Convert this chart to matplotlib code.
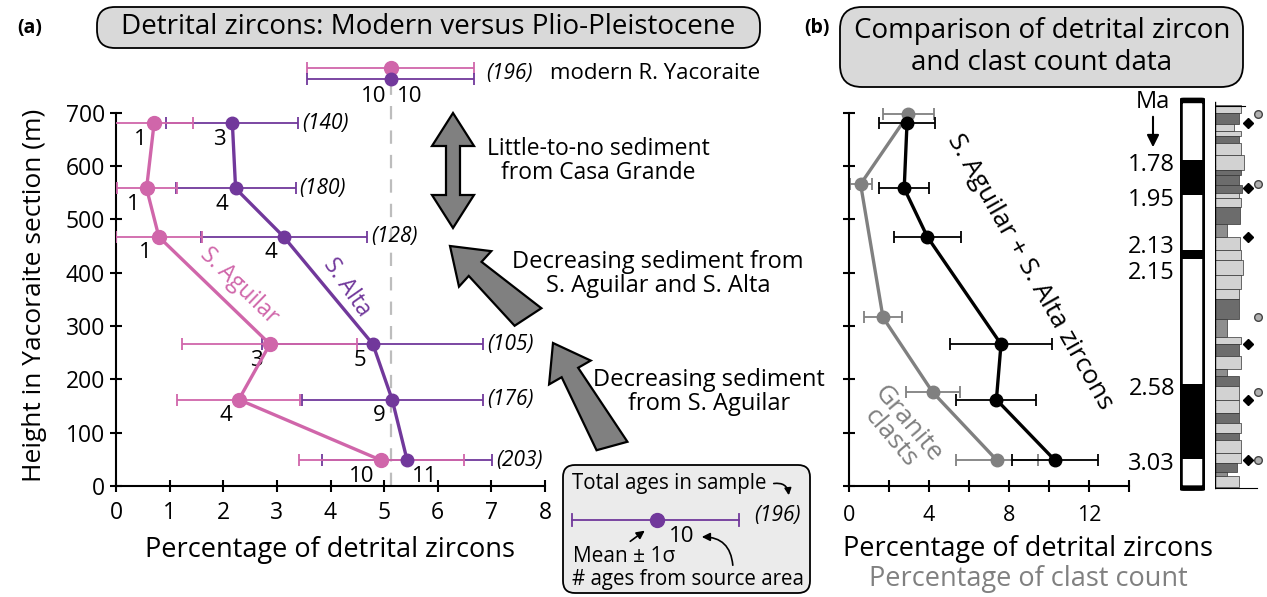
import numpy as np
import matplotlib
matplotlib.use('Agg')
import matplotlib.pyplot as plt
from matplotlib.patches import FancyBboxPatch, Polygon, Rectangle, FancyArrowPatch

plt.rcParams['font.family'] = ['Open Sans', 'DejaVu Sans']

PINK = '#d066aa'
PURPLE = '#71389b'
GRAY = '#808080'

# (a) detrital zircons in the Yacoraite section
heights = [680, 558, 467, 266, 162, 48]
aguilar_mean = [0.71, 0.57, 0.80, 2.87, 2.29, 4.95]
aguilar_sd = [0.72, 0.56, 0.80, 1.63, 1.15, 1.54]
aguilar_n = [1, 1, 1, 3, 4, 10]
alta_mean = [2.17, 2.23, 3.13, 4.79, 5.15, 5.43]
alta_sd = [1.23, 1.12, 1.55, 2.06, 1.69, 1.59]
alta_n = [3, 4, 4, 5, 9, 11]
total_ages = [140, 180, 128, 105, 176, 203]

# modern river sample (pink / purple)
modern_heights = [783, 764]
modern_mean = 5.12
modern_sd = 1.55
modern_n = 10
modern_total = 196

# (b) zircons vs clast counts
combined_mean = [2.90, 2.76, 3.92, 7.60, 7.37, 10.30]
combined_sd = [1.42, 1.26, 1.69, 2.57, 2.00, 2.17]
clast_heights = [697, 566, 316, 176, 48]
clast_mean = [2.97, 0.58, 1.70, 4.18, 7.40]
clast_sd = [1.28, 0.55, 0.97, 1.35, 2.03]

# magnetostratigraphy (heights in m)
chron_bounds = [723, 611, 545, 442, 426, 191, 51, -4]
chron_normal = [False, True, False, True, False, True, False]
chron_ages = ['1.78', '1.95', '2.13', '2.15', '2.58', '3.03']

# lithologic log: bed top, bed base (m), bed width, shade
bed_top = [714, 699, 678, 665, 656, 643, 621, 593, 584, 565, 549, 540, 524, 492, 467, 442, 423, 395,
           370, 351, 313, 279, 266, 244, 219, 206, 187, 162, 137, 118, 99, 87, 62, 43, 27, 18]
bed_base = bed_top[1:] + [-1]
bed_width = [25.7, 24, 19, 25.7, 24, 25.7, 29, 25.7, 24, 27.3, 24, 25.7, 25, 11.7, 25, 25.7, 28.3, 25.7,
             24, 24, 11.7, 25.7, 24, 25.7, 12.3, 24, 24, 24, 24, 25.7, 24, 25.7, 25.7, 22.3, 11.7, 24]
bed_shade = ['l', 'd', 'l', 'l', 'd', 'l', 'l', 'd', 'd', 'd', 'l', 'l', 'd', 'm', 'l', 'l', 'l', 'l',
             'l', 'd', 'm', 'l', 'd', 'l', 'm', 'd', 'l', 'l', 'd', 'l', 'd', 'l', 'l', 'd', 'm', 'l']
shade_colors = {'l': '#d2d2d2', 'd': '#6c6c6c', 'm': '#8e8e8e'}

W, H = 1267, 597
fig = plt.figure(figsize=(W / 100, H / 100), dpi=100)

ylo, yhi = -20, 820
px_per_m = 0.5333
y0_px = 486
def axes_rect(x_left, x_right):
    bottom = H - (y0_px - ylo * px_per_m)
    height = (yhi - ylo) * px_per_m
    return [x_left / W, bottom / H, (x_right - x_left) / W, height / H]

NUM = 16

# ---------------- panel (a) ----------------
ax = fig.add_axes(axes_rect(116, 545))
ax.set_xlim(0, 8)
ax.set_ylim(ylo, yhi)
ebar = dict(elinewidth=1.3, capsize=4.5, capthick=1.3, linestyle='none')
ax.errorbar(alta_mean, heights, xerr=alta_sd, color=PURPLE, **ebar, zorder=3)
ax.errorbar(aguilar_mean, heights, xerr=aguilar_sd, color=PINK, **ebar, zorder=3)
ax.plot(aguilar_mean, heights, color=PINK, lw=2.4, marker='o', ms=10, zorder=4)
ax.plot(alta_mean, heights, color=PURPLE, lw=2.4, marker='o', ms=9, zorder=5)

# modern
ax.plot([modern_mean, modern_mean], [0, modern_heights[1]], color='#bdbdbd', lw=1.6,
        dashes=(6, 5), zorder=1)
ax.errorbar([modern_mean], [modern_heights[0]], xerr=[modern_sd], color=PINK, **ebar)
ax.errorbar([modern_mean], [modern_heights[1]], xerr=[modern_sd], color=PURPLE, **ebar)
ax.plot([modern_mean], [modern_heights[0]], 'o', color=PINK, ms=10, zorder=4)
ax.plot([modern_mean], [modern_heights[1]], 'o', color=PURPLE, ms=9, zorder=5)
ax.annotate(str(modern_n), (modern_mean, modern_heights[1]), xytext=(-4, -18),
            textcoords='offset pixels', ha='right', va='center', fontsize=NUM)
ax.annotate(str(modern_n), (modern_mean, modern_heights[1]), xytext=(6, -18),
            textcoords='offset pixels', ha='left', va='center', fontsize=NUM)
ax.annotate('(%d)' % modern_total, (modern_mean + modern_sd, np.mean(modern_heights)),
            xytext=(13, 0), textcoords='offset pixels', ha='left', va='center',
            fontsize=15, style='italic')
ax.annotate('modern R. Yacoraite', (modern_mean + modern_sd, np.mean(modern_heights)),
            xytext=(76, 0), textcoords='offset pixels', ha='left', va='center', fontsize=16)

for i, h in enumerate(heights):
    ax.annotate(str(aguilar_n[i]), (aguilar_mean[i], h), xytext=(-7, -16),
                textcoords='offset pixels', ha='right', va='center', fontsize=NUM)
    if alta_n[i] >= 11:
        off, ha = (5, -16), 'left'
    else:
        off, ha = (-7, -16), 'right'
    ax.annotate(str(alta_n[i]), (alta_mean[i], h), xytext=off,
                textcoords='offset pixels', ha=ha, va='center', fontsize=NUM)
    ax.annotate('(%d)' % total_ages[i], (alta_mean[i] + alta_sd[i], h), xytext=(4, 0),
                textcoords='offset pixels', ha='left', va='center', fontsize=15, style='italic')

ax.text(2.3, 375, 'S. Aguilar', color=PINK, rotation=-44, ha='center', va='center',
        rotation_mode='anchor', fontsize=16.5)
ax.text(4.3, 373, 'S. Alta', color=PURPLE, rotation=-55, ha='center', va='center',
        rotation_mode='anchor', fontsize=16.5)

for s in ['top', 'right']:
    ax.spines[s].set_visible(False)
ax.spines['left'].set_bounds(0, 700)
ax.spines['bottom'].set_position(('data', 0))
for s in ['left', 'bottom']:
    ax.spines[s].set_linewidth(1.5)
ax.set_xticks(range(0, 9))
ax.set_yticks(range(0, 701, 100))
ax.tick_params(direction='inout', length=8, width=1.5, labelsize=16.5, pad=4)
ax.tick_params(axis='x', pad=7)
ax.patch.set_alpha(0)

# ---------------- panel (b) ----------------
bx = fig.add_axes(axes_rect(849, 1129))
bx.set_xlim(0, 14)
bx.set_ylim(ylo, yhi)
bx.errorbar(clast_mean, clast_heights, xerr=clast_sd, color=GRAY, **ebar)
bx.plot(clast_mean, clast_heights, color=GRAY, lw=2.4, marker='o', ms=9)
bx.errorbar(combined_mean, heights, xerr=combined_sd, color='black', **ebar)
bx.plot(combined_mean, heights, color='black', lw=2.4, marker='o', ms=9)
bx.text(9.05, 401, 'S. Aguilar + S. Alta zircons', rotation=-60.5, ha='center', va='center',
        rotation_mode='anchor', fontsize=19)
bx.text(2.5, 103, 'Granite\nclasts', color=GRAY, rotation=-50, ha='center', va='center',
        rotation_mode='anchor', fontsize=19, linespacing=0.85)
for s in ['top', 'right']:
    bx.spines[s].set_visible(False)
bx.spines['left'].set_bounds(0, 700)
bx.spines['bottom'].set_position(('data', 0))
for s in ['left', 'bottom']:
    bx.spines[s].set_linewidth(1.5)
bx.set_xticks(range(0, 15, 2))
bx.set_xticklabels([str(v) if v % 4 == 0 else '' for v in range(0, 15, 2)])
bx.set_yticks(range(0, 701, 100))
bx.set_yticklabels([])
bx.tick_params(direction='inout', length=8, width=1.5, labelsize=15.5)
bx.tick_params(axis='x', pad=10)
bx.patch.set_alpha(0)

# ---------------- magnetostratigraphy ----------------
mx = fig.add_axes(axes_rect(1180, 1205))
mx.set_xlim(0, 1)
mx.set_ylim(ylo, yhi)
mx.axis('off')
for top, base, normal in zip(chron_bounds[:-1], chron_bounds[1:], chron_normal):
    mx.add_patch(Rectangle((0, base), 1, top - base, facecolor='black' if normal else 'white',
                           edgecolor='none'))
mx.add_patch(FancyBboxPatch((0, chron_bounds[-1]), 1, chron_bounds[0] - chron_bounds[-1],
                            boxstyle='round,pad=0,rounding_size=0.15', facecolor='none',
                            edgecolor='black', lw=4, mutation_aspect=20))
nudge = [-5, -5, 3, -14, -5, -5]
for age, b, dy in zip(chron_ages, chron_bounds[1:], nudge):
    mx.annotate(age, (0, b), xytext=(-5, dy), textcoords='offset pixels', ha='right',
                va='center', fontsize=17, annotation_clip=False)

# ---------------- lithologic log ----------------
lx = fig.add_axes(axes_rect(1215, 1267))
lx.set_xlim(0, 52)
lx.set_ylim(ylo, yhi)
lx.axis('off')
for top, base, w, s in zip(bed_top, bed_base, bed_width, bed_shade):
    lx.add_patch(Rectangle((0, base), w, top - base, facecolor=shade_colors[s],
                           edgecolor='#333333', lw=0.5))
lx.plot([0, 0], [-3, 720], color='black', lw=1)
lx.plot([0, 30], [712, 712], color='black', lw=0.8)
lx.plot([0, 42], [-3, -3], color='black', lw=0.8)
for t in range(50, 701, 50):
    lx.plot([-2.5, 0], [t, t], color='black', lw=0.8)
lx.plot([33] * len(heights), heights, 'D', color='black', ms=5.5, clip_on=False)
lx.plot([43] * len(clast_heights), clast_heights, 'o', mfc='#b0b0b0', mec='#444444',
        mew=1, ms=5.5, clip_on=False)

# ---------------- overlay (pixel coordinates) ----------------
ov = fig.add_axes([0, 0, 1, 1])
ov.set_xlim(0, W)
ov.set_ylim(H, 0)
ov.axis('off')
ov.patch.set_alpha(0)

def box(x0, y0, x1, y1, r, fc):
    ov.add_patch(FancyBboxPatch((x0 + r, y0 + r), x1 - x0 - 2 * r, y1 - y0 - 2 * r,
                                boxstyle='round,pad=%g' % r, facecolor=fc,
                                edgecolor='black', lw=1.3))

def arrow(x0, y0, x1, y1, shaft, head_w, head_l, double=False, flare=0):
    p0, p1 = np.array([x0, y0], float), np.array([x1, y1], float)
    u = (p1 - p0) / np.linalg.norm(p1 - p0)
    n = np.array([-u[1], u[0]])
    b1 = p1 - u * head_l
    pts = [p1, b1 + n * head_w / 2, b1 + n * shaft / 2]
    if double:
        b0 = p0 + u * head_l
        pts += [b0 + n * shaft / 2, b0 + n * head_w / 2, p0, b0 - n * head_w / 2, b0 - n * shaft / 2]
    else:
        pts += [p0 + n * (shaft / 2 + flare) - u * 4, p0 - n * (shaft / 2 + flare) + u * 4]
    pts += [b1 - n * shaft / 2, b1 - n * head_w / 2]
    ov.add_patch(Polygon(pts, closed=True, facecolor=GRAY, edgecolor='black', lw=1.6,
                         joinstyle='miter'))

ov.text(30, 28, '(a)', ha='center', va='center', fontsize=14, fontweight='bold')
box(97, 7, 760, 48, 18, '#d9d9d9')
ov.text(428, 27, 'Detrital zircons: Modern versus Plio-Pleistocene', ha='center', va='center',
        fontsize=20)
ov.text(817, 28, '(b)', ha='center', va='center', fontsize=14, fontweight='bold')
box(840, 7, 1243, 87, 22, '#d9d9d9')
ov.text(1042, 47, 'Comparison of detrital zircon\nand clast count data', ha='center',
        va='center', fontsize=20, linespacing=1.15)

ov.text(35, 295, 'Height in Yacoraite section (m)', rotation=90, ha='center', va='center',
        fontsize=19)
ov.text(330, 550, 'Percentage of detrital zircons', ha='center', va='center', fontsize=19.5)
ov.text(1028, 549, 'Percentage of detrital zircons', ha='center', va='center', fontsize=19.5)
ov.text(1028, 579, 'Percentage of clast count', ha='center', va='center', fontsize=19.5,
        color=GRAY)

arrow(453, 228, 453, 113, 14, 42, 33, double=True)
arrow(528, 317, 450, 246, 19, 48, 34, flare=6)
arrow(612, 446, 553, 343, 19, 48, 34, flare=6)
ov.text(598, 161, 'Little-to-no sediment\nfrom Casa Grande', ha='center', va='center',
        fontsize=16.5, linespacing=1.05)
ov.text(658, 274, 'Decreasing sediment from\nS. Aguilar and S. Alta', ha='center',
        va='center', fontsize=17, linespacing=1.05)
ov.text(709, 392, 'Decreasing sediment\nfrom S. Aguilar', ha='center', va='center',
        fontsize=17, linespacing=1.05)

# Ma label
ov.text(1153, 102, 'Ma', ha='center', va='center', fontsize=17)
ov.add_patch(FancyArrowPatch((1153, 114), (1153, 150), arrowstyle='-|>', mutation_scale=18,
                             color='black', lw=1.5))

# legend box
box(563, 465, 810, 593, 12, '#ebebeb')
ov.text(572, 484, 'Total ages in sample', ha='left', va='center', fontsize=14.8)
ov.text(801, 515, '(196)', ha='right', va='center', fontsize=15, style='italic')
ov.plot([572, 739], [520, 520], color=PURPLE, lw=1.3)
ov.plot([572, 572], [514, 526], color=PURPLE, lw=1.3)
ov.plot([739, 739], [514, 526], color=PURPLE, lw=1.3)
ov.plot([657], [520], 'o', color=PURPLE, ms=10)
ov.text(682, 537, '10', ha='center', va='center', fontsize=NUM)
ov.text(573, 556, 'Mean \u00b1 1\u03c3', ha='left', va='center', fontsize=15)
ov.text(572, 580, '# ages from source area', ha='left', va='center', fontsize=14.8)
ov.add_patch(FancyArrowPatch((628, 543), (647, 529), arrowstyle='-|>', mutation_scale=12,
                             color='black', lw=1.2))
ov.add_patch(FancyArrowPatch((733, 568), (699, 537), arrowstyle='-|>', mutation_scale=12,
                             color='black', lw=1.2, connectionstyle='arc3,rad=0.5'))
ov.add_patch(FancyArrowPatch((771, 484), (789, 498), arrowstyle='-|>', mutation_scale=10,
                             color='black', lw=1.2, connectionstyle='arc3,rad=-0.6'))

fig.savefig('out.png', dpi=100)
